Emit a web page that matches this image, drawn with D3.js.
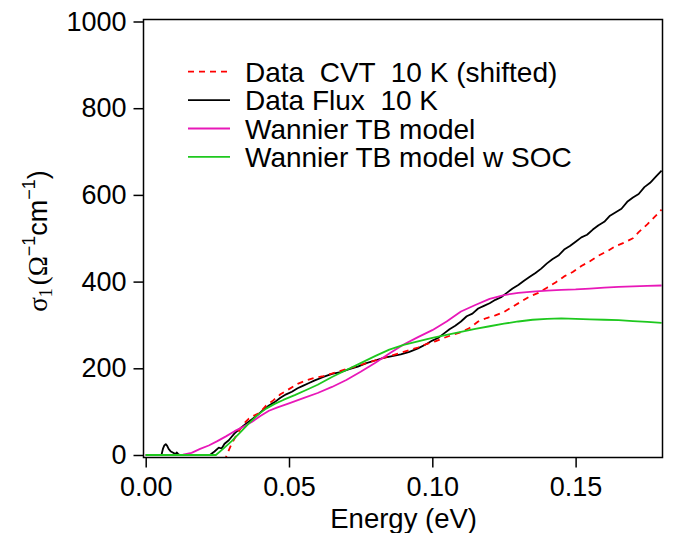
<!DOCTYPE html>
<html>
<head>
<meta charset="utf-8">
<script src="https://cdn.jsdelivr.net/npm/d3@7"></script>
<style>
  body { margin: 0; background: #fff; }
  text { font-family: 'Liberation Sans', Arial, Helvetica, sans-serif; }
</style>
</head>
<body>
<script>
// energy (eV), sigma_1 (Ohm^-1 cm^-1)
const dataFlux = [
  [0.0000, 0], [0.0055, 0], [0.0060, 14], [0.0065, 22], [0.0070, 25], [0.0075, 21], [0.0080, 14],
  [0.0088, 8], [0.0096, 5], [0.0104, 2], [0.0108, 6], [0.0112, 3], [0.0118, 0], [0.0224, 0],
  [0.0240, 8], [0.0255, 17], [0.0265, 15], [0.0275, 26], [0.0290, 34], [0.0300, 42], [0.0310, 50],
  [0.0320, 56], [0.0335, 64], [0.0350, 72], [0.0370, 82], [0.0390, 92], [0.0410, 104], [0.0430, 114],
  [0.0450, 122], [0.0470, 132], [0.0490, 140], [0.0510, 146], [0.0530, 154], [0.0550, 160],
  [0.0570, 166], [0.0590, 172], [0.0620, 180], [0.0650, 187], [0.0680, 191], [0.0710, 198],
  [0.0740, 204], [0.0770, 212], [0.0800, 218], [0.0830, 224], [0.0860, 228], [0.0890, 232],
  [0.0920, 238], [0.0950, 246], [0.0980, 256], [0.1000, 264], [0.1020, 270], [0.1040, 280],
  [0.1060, 290], [0.1080, 298], [0.1100, 308], [0.1120, 320], [0.1140, 326], [0.1160, 338],
  [0.1180, 344], [0.1200, 350], [0.1220, 358], [0.1240, 364], [0.1260, 374], [0.1280, 384],
  [0.1300, 392], [0.1320, 402], [0.1340, 411], [0.1360, 420], [0.1380, 430], [0.1400, 442],
  [0.1420, 452], [0.1440, 460], [0.1460, 474], [0.1480, 482], [0.1500, 492], [0.1520, 502],
  [0.1540, 508], [0.1560, 520], [0.1580, 530], [0.1600, 538], [0.1620, 552], [0.1640, 560],
  [0.1660, 568], [0.1680, 584], [0.1700, 594], [0.1720, 602], [0.1740, 618], [0.1760, 628],
  [0.1780, 642], [0.1800, 656]
]

const dataCVT = [
  [0.0275, -15], [0.0283, 0], [0.0300, 26], [0.0315, 44], [0.0330, 60], [0.0345, 74], [0.0360, 84],
  [0.0375, 90], [0.0395, 96], [0.0420, 114], [0.0445, 126], [0.0470, 140], [0.0500, 152],
  [0.0530, 164], [0.0560, 172], [0.0590, 178], [0.0620, 182], [0.0650, 188], [0.0680, 194],
  [0.0710, 200], [0.0740, 206], [0.0770, 212], [0.0800, 218], [0.0830, 224], [0.0860, 230],
  [0.0890, 236], [0.0920, 242], [0.0950, 248], [0.0980, 256], [0.1010, 262], [0.1040, 270],
  [0.1070, 277], [0.1100, 283], [0.1130, 293], [0.1160, 308], [0.1190, 316], [0.1220, 322],
  [0.1250, 330], [0.1280, 342], [0.1310, 354], [0.1340, 366], [0.1370, 374], [0.1400, 386],
  [0.1430, 398], [0.1460, 412], [0.1490, 422], [0.1520, 436], [0.1550, 447], [0.1580, 460],
  [0.1610, 470], [0.1640, 482], [0.1670, 490], [0.1700, 500], [0.1720, 514], [0.1750, 532],
  [0.1780, 552], [0.1800, 566]
]

const dataTB = [
  [0, 0], [0.010, 0], [0.013, 1], [0.016, 5], [0.019, 14], [0.022, 22], [0.025, 32], [0.028, 43],
  [0.031, 55], [0.034, 65], [0.037, 76], [0.040, 90], [0.043, 102], [0.046, 110], [0.050, 119],
  [0.055, 131], [0.060, 143], [0.065, 157], [0.070, 173], [0.075, 192], [0.080, 212], [0.085, 234],
  [0.090, 255], [0.095, 272], [0.100, 288], [0.105, 308], [0.110, 331], [0.115, 346], [0.120, 360],
  [0.125, 369], [0.130, 374], [0.135, 377], [0.140, 379], [0.145, 381], [0.150, 382], [0.155, 384],
  [0.160, 386], [0.165, 388], [0.170, 389], [0.175, 390], [0.180, 391]
]

const dataSOC = [
  [0, 0], [0.0245, 0], [0.027, 14], [0.030, 32], [0.033, 52], [0.036, 73], [0.039, 92], [0.042, 107],
  [0.045, 118], [0.048, 127], [0.052, 138], [0.056, 150], [0.060, 162], [0.065, 180], [0.070, 196],
  [0.075, 212], [0.080, 228], [0.085, 243], [0.090, 254], [0.095, 262], [0.100, 270], [0.105, 277],
  [0.110, 284], [0.115, 291], [0.120, 297], [0.125, 303], [0.130, 308], [0.135, 312], [0.140, 314],
  [0.145, 315], [0.150, 314], [0.155, 313], [0.160, 312], [0.165, 311], [0.170, 309], [0.175, 307],
  [0.180, 305]
]

const xTicks = [0, 0.05, 0.10, 0.15]
const yTicks = [0, 200, 400, 600, 800, 1000]

const legendLabels = ['Data  CVT  10 K (shifted)', 'Data Flux  10 K', 'Wannier TB model', 'Wannier TB model w SOC']

const width = 674
const height = 533
const fontSize = 27

const x = d3.scaleLinear().domain([0, 0.18]).range([145.7, 661.6])
const y = d3.scaleLinear().domain([0, 1000]).range([455, 21.5])

const svg = d3.select('body').append('svg')
  .attr('width', width)
  .attr('height', height)

// plot frame (sits a little outside the data range, as in the original)
const frame = { left: 143.5, top: 19.5, right: 662.5, bottom: 457.5 }

svg.append('defs').append('clipPath').attr('id', 'clip')
  .append('rect')
  .attr('x', frame.left).attr('y', frame.top)
  .attr('width', frame.right - frame.left)
  .attr('height', frame.bottom - frame.top)

const xAxis = d3.axisBottom(x)
  .tickValues(xTicks)
  .tickFormat(d3.format('.2f'))
  .tickSize(10)
  .tickPadding(9)

const yAxis = d3.axisLeft(y)
  .tickValues(yTicks)
  .tickFormat(d3.format('d'))
  .tickSize(10)
  .tickPadding(7)

const gx = svg.append('g')
  .attr('transform', `translate(0, ${frame.bottom})`)
  .call(xAxis)

const gy = svg.append('g')
  .attr('transform', `translate(${frame.left}, 0)`)
  .call(yAxis)

for (const g of [gx, gy]) {
  g.select('.domain').remove()
  g.selectAll('.tick line').attr('stroke', '#000').attr('stroke-width', 1.5)
  g.selectAll('.tick text')
    .attr('fill', '#000')
    .style('font-size', fontSize + 'px')
    .style('font-family', "'Liberation Sans', Arial, sans-serif")
}

const line = d3.line()
  .x(d => x(d[0]))
  .y(d => y(d[1]))

const curves = svg.append('g').attr('clip-path', 'url(#clip)')

const series = [
  { data: dataFlux, color: '#000000', dash: null, label: legendLabels[1] },
  { data: dataCVT, color: '#ff0000', dash: '6,5', label: legendLabels[0] },
  { data: dataTB, color: '#e818b8', dash: null, label: legendLabels[2] },
  { data: dataSOC, color: '#1ec81e', dash: null, label: legendLabels[3] }
]

series.forEach(s => {
  curves.append('path')
    .datum(s.data)
    .attr('fill', 'none')
    .attr('stroke', s.color)
    .attr('stroke-width', 1.8)
    .attr('stroke-dasharray', s.dash)
    .attr('stroke-linejoin', 'round')
    .attr('d', line)
})

svg.append('rect')
  .attr('x', frame.left).attr('y', frame.top)
  .attr('width', frame.right - frame.left)
  .attr('height', frame.bottom - frame.top)
  .attr('fill', 'none')
  .attr('stroke', '#000')
  .attr('stroke-width', 1.5)

// legend
const legendOrder = [series[1], series[0], series[2], series[3]]
const legend = svg.append('g')
legendOrder.forEach((s, i) => {
  const cy = 71.7 + i * 28.4
  legend.append('line')
    .attr('x1', 188).attr('x2', 230)
    .attr('y1', cy).attr('y2', cy)
    .attr('stroke', s.color)
    .attr('stroke-width', 1.8)
    .attr('stroke-dasharray', s.dash)
  legend.append('text')
    .attr('x', 245)
    .attr('y', cy + 10)
    .style('font-size', '28px')
    .style('white-space', 'pre')
    .attr('xml:space', 'preserve')
    .text(s.label)
})

// axis titles
svg.append('text')
  .attr('x', (x.range()[0] + x.range()[1]) / 2)
  .attr('y', 528)
  .attr('text-anchor', 'middle')
  .style('font-size', '27.5px')
  .text('Energy (eV)')

const serif = "'Liberation Serif', 'DejaVu Serif', serif"
const yTitle = svg.append('text')
  .attr('transform', 'translate(47, 241) rotate(-90)')
  .attr('text-anchor', 'middle')
  .style('font-size', fontSize + 'px')
yTitle.append('tspan').style('font-family', serif).text('σ')
yTitle.append('tspan').style('font-family', serif).style('font-size', '18px').attr('dy', 5).text('1')
yTitle.append('tspan').style('font-family', serif).attr('dy', -5).attr('dx', 3).text('(Ω')
yTitle.append('tspan').style('font-size', '18px').attr('dy', -12).text('−1')
yTitle.append('tspan').attr('dy', 12).text('cm')
yTitle.append('tspan').style('font-size', '18px').attr('dy', -12).text('−1')
yTitle.append('tspan').attr('dy', 12).text(')')
</script>
</body>
</html>
